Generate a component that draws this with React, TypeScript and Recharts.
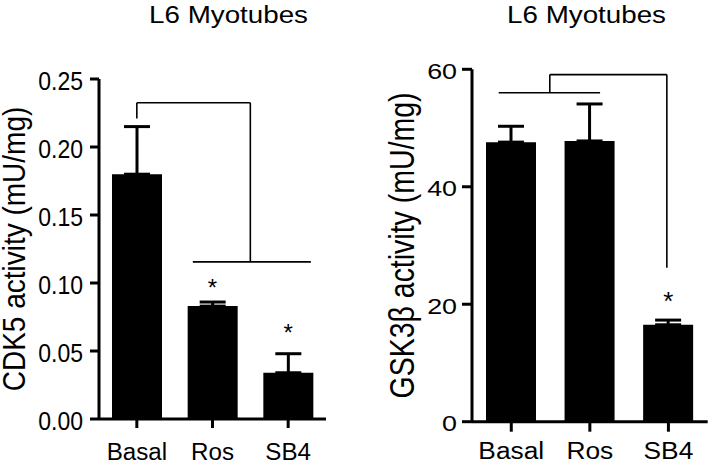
import { BarChart, Bar, XAxis, YAxis, ErrorBar, ReferenceLine, ReferenceDot } from 'recharts';

const groups = ['Basal', 'Ros', 'SB4'];

const cdk5Mean = [0.18, 0.083, 0.034];
const cdk5Sem = [0.035, 0.003, 0.014];
const cdk5Ticks = [0, 0.05, 0.1, 0.15, 0.2, 0.25];

const gskMean = [47.6, 47.8, 16.5];
const gskSem = [2.7, 6.3, 0.8];
const gskTicks = [0, 20, 40, 60];

// significance brackets, [x1, y1, x2, y2] in data units (x = group index)
const cdk5Brackets = [
  [0, 0.221, 0, 0.2325],
  [0, 0.2325, 1.5, 0.2325],
  [1.5, 0.2325, 1.5, 0.1155],
  [0.74, 0.1155, 2.3, 0.1155],
];
const cdk5Stars = [[1, 0.1005], [2, 0.0675]];

const gskBrackets = [
  [-0.16, 56, 1.13, 56],
  [0.49, 56, 0.49, 59.1],
  [0.49, 59.1, 1.98, 59.1],
  [1.98, 59.1, 1.98, 26.2],
];
const gskStars = [[2, 21.6]];

const FONT = '"Liberation Sans", Arial, Helvetica, sans-serif';
const axisStroke = { stroke: '#000', strokeWidth: 3 };

function YTick({ x, y, payload, fmt, fs, sx, sy }: any) {
  return (
    <text
      transform={`translate(${x},${y + 2}) scale(${sx},${sy})`}
      textAnchor="end"
      dominantBaseline="central"
      fontSize={fs}
      fontFamily={FONT}
      fill="#000"
    >
      {fmt(payload.value)}
    </text>
  );
}

function XTick({ x, y, payload, fs, sx, dy }: any) {
  return (
    <text
      transform={`translate(${x},${y + dy}) scale(${sx},1)`}
      textAnchor="middle"
      fontSize={fs}
      fontFamily={FONT}
      fill="#000"
    >
      {groups[payload.value]}
    </text>
  );
}

function AxisTitle({ viewBox, text, cx, fs, sy }: any) {
  const cy = viewBox && viewBox.height ? viewBox.y + viewBox.height / 2 : 249;
  return (
    <text
      transform={`translate(${cx},${cy}) rotate(-90) scale(1,${sy})`}
      textAnchor="middle"
      dominantBaseline="central"
      fontSize={fs}
      fontFamily={FONT}
      fill="#000"
    >
      {text}
    </text>
  );
}

function Star({ cx, cy, fs }: any) {
  return (
    <text x={cx} y={cy + fs * 0.57} textAnchor="middle" fontSize={fs} fontFamily={FONT} fill="#000">
      *
    </text>
  );
}

function Panel(p: any) {
  const rows = groups.map((g, i) => ({ pos: i, name: g, mean: p.means[i], err: [0, p.sems[i]] }));
  return (
    <div style={{ position: 'absolute', left: p.left, top: 0 }}>
      <BarChart
        width={p.width}
        height={463}
        data={rows}
        margin={{ top: p.top, right: p.right, bottom: 0, left: 0 }}
      >
        <XAxis
          type="number"
          dataKey="pos"
          domain={[-0.5, 2.5]}
          ticks={[0, 1, 2]}
          interval={0}
          height={p.bottom}
          tickSize={p.tickSize}
          tickMargin={0}
          axisLine={axisStroke}
          tickLine={axisStroke}
          tick={(t: any) => <XTick {...t} fs={p.xfs} sx={p.xsx} dy={p.xdy} />}
        />
        <YAxis
          type="number"
          domain={p.domain}
          ticks={p.ticks}
          interval={0}
          width={p.yWidth}
          tickSize={p.tickSize}
          tickMargin={p.yMargin}
          axisLine={axisStroke}
          tickLine={axisStroke}
          tick={(t: any) => <YTick {...t} fmt={p.fmt} fs={p.yfs} sx={p.ysx} sy={p.ysy} />}
          label={(l: any) => <AxisTitle {...l} text={p.yLabel} cx={p.labelX} fs={p.labelFs} sy={p.labelSy} />}
        />
        <Bar dataKey="mean" fill="#000" barSize={50} isAnimationActive={false}>
          <ErrorBar dataKey="err" direction="y" width={13} stroke="#000" strokeWidth={3} isAnimationActive={false} />
        </Bar>
        {p.brackets.map((b: number[], i: number) => (
          <ReferenceLine
            key={`b${i}`}
            segment={[{ x: b[0], y: b[1] }, { x: b[2], y: b[3] }]}
            stroke="#000"
            strokeWidth={1.6}
            ifOverflow="visible"
          />
        ))}
        {p.stars.map((s: number[], i: number) => (
          <ReferenceDot
            key={`s${i}`}
            x={s[0]}
            y={s[1]}
            r={0}
            shape={(d: any) => <Star {...d} fs={p.starFs} />}
          />
        ))}
      </BarChart>
    </div>
  );
}

export default function App() {
  return (
    <div style={{ position: 'absolute', left: 0, top: 0, width: 711, height: 463, background: '#fff' }}>
      <svg width={711} height={463} style={{ position: 'absolute', left: 0, top: 0 }}>
        <text transform="translate(228.5,23.3) scale(1.157,1)" textAnchor="middle" fontSize={24} fontFamily={FONT} fill="#000">
          L6 Myotubes
        </text>
        <text transform="translate(586.5,22.7) scale(1.157,1)" textAnchor="middle" fontSize={24} fontFamily={FONT} fill="#000">
          L6 Myotubes
        </text>
      </svg>
      <Panel
        left={0}
        width={355}
        top={79}
        right={29}
        bottom={44}
        yWidth={99}
        tickSize={9}
        yMargin={7}
        domain={[0, 0.25]}
        ticks={cdk5Ticks}
        fmt={(v: number) => v.toFixed(2)}
        yfs={23}
        ysx={1}
        ysy={1.15}
        xfs={23}
        xsx={1.05}
        xdy={32}
        yLabel="CDK5 activity (mU/mg)"
        labelX={13.5}
        labelFs={28}
        labelSy={1.15}
        means={cdk5Mean}
        sems={cdk5Sem}
        brackets={cdk5Brackets}
        stars={cdk5Stars}
        starFs={24}
      />
      <Panel
        left={355}
        width={356}
        top={69.3}
        right={3.3}
        bottom={41.3}
        yWidth={117}
        tickSize={10}
        yMargin={5}
        domain={[0, 60]}
        ticks={gskTicks}
        fmt={(v: number) => String(v)}
        yfs={22}
        ysx={1.22}
        ysy={1}
        xfs={23.3}
        xsx={1.13}
        xdy={27.3}
        yLabel="GSK3β activity (mU/mg)"
        labelX={48}
        labelFs={28.5}
        labelSy={1.2}
        means={gskMean}
        sems={gskSem}
        brackets={gskBrackets}
        stars={gskStars}
        starFs={26}
      />
    </div>
  );
}
